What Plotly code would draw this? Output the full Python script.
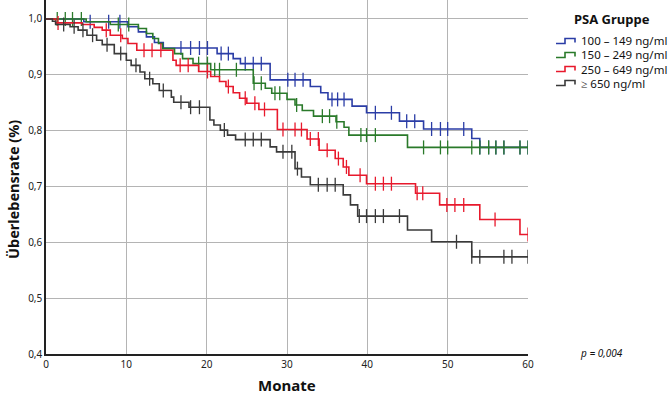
import plotly.graph_objects as go
import numpy as np

# ---------------- data ----------------
groups = ["100 \u2013 149 ng/ml", "150 \u2013 249 ng/ml", "250 \u2013 649 ng/ml", "\u2265 650 ng/ml"]
colors = ["#2b3da6", "#2a7a2a", "#e8192c", "#3a3a3a"]

blue_t = [0, 4.7, 10.2, 11.5, 12.5, 13.5, 14.6, 21.3, 23.3, 24.2, 27.9, 32.9, 34.2, 35.1, 38.1, 39.9, 44.0, 47.0, 53.0, 54.0]
blue_s = [1.0, 0.995, 0.986, 0.977, 0.968, 0.958, 0.948, 0.938, 0.929, 0.920, 0.891, 0.879, 0.868, 0.856, 0.844, 0.832, 0.817, 0.803, 0.786, 0.770]
blue_c = [5.5, 7.8, 9.2, 16.8, 18.0, 19.1, 20.1, 21.8, 22.7, 24.8, 25.8, 26.8, 30.1, 31.0, 32.0, 35.6, 36.3, 37.1,
          41.0, 43.0, 44.9, 45.9, 48.0, 49.1, 50.0, 52.0, 54.0, 55.1, 56.0, 57.0, 59.0, 60.0]

green_t = [0, 5.0, 8.0, 11.5, 12.5, 13.3, 14.0, 14.5, 16.0, 17.0, 18.3, 20.5, 25.8, 27.3, 28.1, 30.0, 31.0, 31.9, 33.3, 36.1, 37.1, 37.7, 45.0]
green_s = [1.0, 0.995, 0.990, 0.983, 0.974, 0.965, 0.956, 0.947, 0.938, 0.929, 0.920, 0.909, 0.885, 0.876, 0.867, 0.856, 0.846, 0.836, 0.826, 0.816, 0.806, 0.792, 0.770]
green_c = [1.4, 2.4, 3.3, 4.4, 9.0, 10.3, 19.0, 20.1, 21.0, 21.6, 23.7, 25.9, 26.8, 28.5, 29.1, 31.2, 34.4, 35.3, 36.2, 39.2,
           39.9, 41.0, 47.0, 49.1, 50.0, 53.0, 54.0, 55.1, 56.0, 57.0, 59.0, 60.0]

red_t = [0, 1.2, 4.5, 6.0, 7.0, 8.0, 9.5, 10.2, 11.3, 15.8, 16.2, 19.0, 20.5, 21.6, 22.4, 23.3, 24.1, 25.0, 26.5, 28.8, 32.5, 34.0, 36.0, 37.0, 37.7, 39.9, 46.0, 49.0, 54.0, 59.0]
red_s = [1.0, 0.993, 0.990, 0.985, 0.980, 0.971, 0.965, 0.956, 0.944, 0.926, 0.917, 0.906, 0.897, 0.888, 0.879, 0.868, 0.858, 0.849, 0.838, 0.802, 0.785, 0.765, 0.750, 0.735, 0.720, 0.705, 0.688, 0.667, 0.641, 0.614]
red_c = [1.5, 7.5, 9.3, 12.2, 13.2, 14.3, 16.7, 17.7, 20.1, 22.7, 24.8, 26.0, 27.2, 29.5, 31.0, 31.8, 32.9, 33.9, 35.0, 36.4,
         37.4, 39.1, 41.0, 42.0, 43.0, 46.2, 46.9, 49.9, 50.9, 52.0, 55.9, 60.0]

black_t = [0, 0.8, 1.2, 3.0, 4.0, 5.1, 6.3, 7.0, 8.5, 10.0, 10.6, 11.7, 12.3, 13.3, 14.1, 15.6, 15.9, 17.8, 20.4, 20.9, 21.7, 22.6, 23.6, 27.9, 28.7, 31.0, 31.8, 32.9, 37.0, 37.9, 38.8, 45.0, 48.0, 53.0]
black_s = [1.0, 0.996, 0.990, 0.986, 0.980, 0.971, 0.962, 0.954, 0.938, 0.926, 0.917, 0.905, 0.893, 0.884, 0.872, 0.860, 0.851, 0.842, 0.819, 0.810, 0.801, 0.792, 0.784, 0.771, 0.762, 0.732, 0.717, 0.703, 0.685, 0.667, 0.647, 0.622, 0.601, 0.574]
black_c = [2.2, 3.5, 4.6, 5.8, 7.6, 9.3, 11.2, 12.9, 14.6, 16.8, 18.0, 19.1, 22.2, 24.8, 25.8, 26.8, 29.5, 30.6, 31.3, 33.9,
           35.0, 36.0, 39.0, 39.9, 41.0, 42.0, 44.0, 51.1, 53.0, 54.0, 57.0, 58.0, 60.0]

end_time = 60
x_ticks = [0, 10, 20, 30, 40, 50, 60]
y_ticks = [0.4, 0.5, 0.6, 0.7, 0.8, 0.9, 1.0]
y_tick_labels = ["0,4", "0,5", "0,6", "0,7", "0,8", "0,9", "1,0"]
p_text = "p = 0,004"
legend_title = "PSA Gruppe"

series = [(blue_t, blue_s, blue_c), (green_t, green_s, green_c), (red_t, red_s, red_c), (black_t, black_s, black_c)]

# ---------------- layout geometry (pixels) ----------------
W, H = 669, 394
L, R, T, B = 46, 141, 0, 40
pw, ph = W - L - R, H - T - B

def px_x(p):
    return (p - L) / pw

def px_y(p):
    return (H - B - p) / ph

fig = go.Figure()
FONT = "Noto Sans"

for (t, s, c), col, name in zip(series, colors, groups):
    xs = list(t) + [end_time]
    ys = list(s) + [s[-1]]
    fig.add_trace(go.Scatter(x=xs, y=ys, mode="lines", line=dict(color=col, width=1.6, shape="hv"),
                             name=name, showlegend=False, hoverinfo="skip"))
    ct = np.array(c)
    idx = np.searchsorted(np.array(t), ct, side="right") - 1
    cy = np.array(s)[idx]
    fig.add_trace(go.Scatter(x=ct, y=cy, mode="markers",
                             marker=dict(symbol="line-ns", size=10, line=dict(color=col, width=1.3)),
                             showlegend=False, hoverinfo="skip"))

shapes = []
annotations = []
# legend
item_y = [41, 55, 69, 83]
for yc, col, name in zip(item_y, colors, groups):
    pts = [(556, yc + 2.5), (565, yc + 2.5), (565, yc - 2.5), (575, yc - 2.5), (575, yc + 1.5)]
    path = "M " + " L ".join(f"{px_x(a):.5f},{px_y(b):.5f}" for a, b in pts)
    shapes.append(dict(type="path", path=path, xref="paper", yref="paper",
                       line=dict(color=col, width=1.6)))
    annotations.append(dict(text=name, x=px_x(579), y=px_y(yc), xref="paper", yref="paper",
                            xanchor="left", yanchor="middle", showarrow=False,
                            font=dict(family=FONT, size=11.5, color="#111")))
annotations.append(dict(text=f"<b>{legend_title}</b>", x=px_x(612), y=px_y(19), xref="paper", yref="paper",
                        xanchor="center", yanchor="middle", showarrow=False,
                        font=dict(family=FONT, size=13, color="#111")))
annotations.append(dict(text=f"<i>{p_text}</i>", x=px_x(601), y=px_y(353), xref="paper", yref="paper",
                        xanchor="center", yanchor="middle", showarrow=False,
                        font=dict(family=FONT, size=10, color="#111")))
annotations.append(dict(text="<b>Monate</b>", x=px_x(287), y=px_y(385), xref="paper", yref="paper",
                        xanchor="center", yanchor="middle", showarrow=False,
                        font=dict(family=FONT, size=15, color="#111")))
annotations.append(dict(text="<b>\u00dcberlebensrate (%)</b>", x=px_x(13), y=px_y(190), xref="paper", yref="paper",
                        xanchor="center", yanchor="middle", showarrow=False, textangle=-90,
                        font=dict(family=FONT, size=14.5, color="#111")))

fig.update_layout(
    width=W, height=H, margin=dict(l=L, r=R, t=T, b=B),
    paper_bgcolor="white", plot_bgcolor="white",
    showlegend=False, shapes=shapes, annotations=annotations,
    font=dict(family=FONT, size=10, color="#222"),
)
fig.update_xaxes(range=[0, 60], tickvals=x_ticks, ticktext=[str(v) for v in x_ticks],
                 showgrid=True, gridcolor="#b4b4b4", gridwidth=1, zeroline=False,
                 showline=True, linecolor="#222", linewidth=1.5, ticks="",
                 tickfont=dict(family=FONT, size=10, color="#222"))
fig.update_yaxes(range=[0.4, 1.034], tickvals=y_ticks, ticktext=y_tick_labels,
                 showgrid=True, gridcolor="#b4b4b4", gridwidth=1, zeroline=False,
                 showline=True, linecolor="#222", linewidth=1.5, ticks="",
                 tickfont=dict(family=FONT, size=10, color="#222"))

fig.write_html("out.html")
